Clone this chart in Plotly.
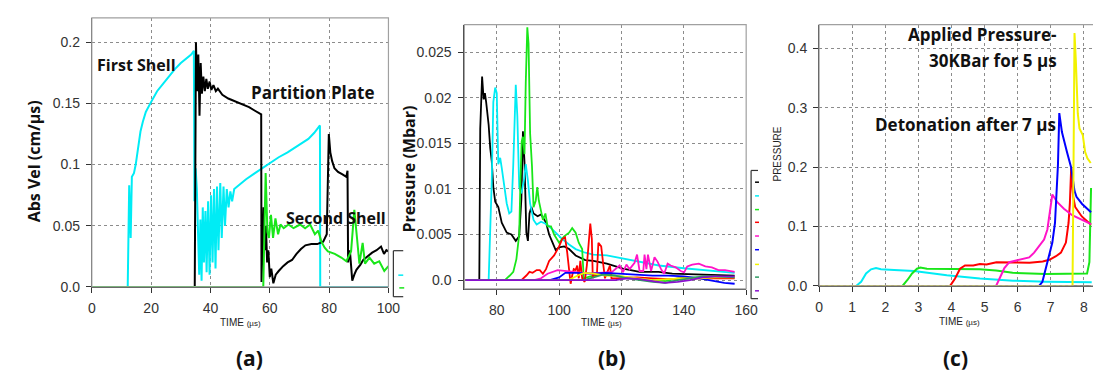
import plotly.graph_objects as go

W, H = 1101, 374

# ---------------- Panel (a): Abs Vel ----------------
a_first_t = [0, 12.1, 12.6, 13.1, 13.5, 14.2, 14.8, 15.3, 15.8, 16.4, 17.2, 18.2, 19.5, 20.5, 22, 24, 26, 28, 30, 32, 33.5, 34.4,
             34.6, 35.0, 35.4, 35.8, 36.2, 36.6, 37.0, 37.4, 37.8, 38.3, 38.7, 39.2, 39.7, 40.2, 40.7, 41.2, 41.7, 42.2, 42.7,
             43.3, 43.8, 44.4, 44.9, 45.5, 46.1, 46.7, 47.3, 48, 49, 50, 52, 55, 58, 60, 63, 66, 70, 73, 75, 76.9, 77.0, 100]
a_first_v = [0, 0, 0.083, 0.04, 0.09, 0.093, 0.1, 0.11, 0.12, 0.127, 0.135, 0.143, 0.149, 0.153, 0.16, 0.166, 0.172, 0.178, 0.183, 0.187, 0.19, 0.193,
             0.07, 0.097, 0.08, 0.045, 0.01, 0.055, 0.005, 0.065, 0.02, 0.062, 0.012, 0.07, 0.01, 0.075, 0.02, 0.08, 0.015, 0.082, 0.03,
             0.085, 0.04, 0.082, 0.05, 0.08, 0.065, 0.078, 0.07, 0.08, 0.082, 0.084, 0.088, 0.093, 0.098, 0.101, 0.106, 0.11, 0.116, 0.121, 0.126, 0.132, 0, 0]

a_plate_t = [0, 34.7, 35.1, 35.5, 35.9, 36.3, 36.7, 37.1, 37.6, 38.1, 38.6, 39.1, 39.7, 40.3, 41, 41.8, 42.5, 44, 46, 48, 50, 53, 55, 57.1,
             57.2, 57.6, 57.9, 58.3, 58.7, 59.1, 59.5, 60.0, 60.5, 61.2, 62, 63, 64.5, 66, 67.5, 69, 70.5, 72, 74, 76, 78, 79.2,
             79.9, 80.4, 81, 81.8, 83, 84.5, 85.8, 86.2, 86.4, 87, 87.8, 88.5, 89.2, 90.5, 91.5, 93, 94.5, 96, 97.5, 98.5, 99.3, 100]
a_plate_v = [0, 0, 0.2, 0.16, 0.19, 0.14, 0.183, 0.158, 0.172, 0.16, 0.17, 0.162, 0.168, 0.161, 0.165, 0.16, 0.162, 0.157, 0.154, 0.152, 0.15, 0.147, 0.144, 0.141,
             0.004, 0.04, 0.065, 0.03, 0.05, 0.02, 0.03, 0.008, 0.015, 0.003, 0.01, 0.013, 0.017, 0.02, 0.022, 0.027, 0.031, 0.034, 0.035, 0.035, 0.037, 0.043,
             0.125, 0.11, 0.103, 0.097, 0.094, 0.092, 0.09, 0.095, 0.02, 0.03, 0.005, 0.01, 0.014, 0.018, 0.022, 0.025, 0.028, 0.03, 0.033, 0.027, 0.03, 0.029]

a_second_t = [0, 57.8, 58.6, 59.2, 59.7, 60.4, 61.1, 61.9, 62.8, 63.6, 64.7, 66.3, 68, 70.2, 71.9, 73.6, 75.2, 76.3, 77.4, 78.5, 79.6,
              81.9, 84.1, 85.8, 87.4, 88.5, 89.4, 90.2, 91.3, 92.1, 93.6, 95.2, 96.9, 98.6, 100]
a_second_v = [0, 0, 0.093, 0.045, 0.04, 0.059, 0.04, 0.056, 0.043, 0.051, 0.048, 0.051, 0.048, 0.051, 0.048, 0.051, 0.043, 0.046, 0.037, 0.032, 0.029,
              0.027, 0.024, 0.021, 0.029, 0.063, 0.04, 0.019, 0.036, 0.019, 0.024, 0.019, 0.021, 0.013, 0.017]

# ---------------- Panel (b): Pressure (Mbar) ----------------
b_black_t = [70, 74.4, 74.7, 75.3, 75.8, 76.2, 76.6, 77.4, 77.9, 78.4, 78.9, 79.5, 80.5, 81.6, 83.2, 84.7, 86.1, 87.2, 87.9, 88.4, 88.9,
             89.5, 90.0, 90.5, 91.1, 91.8, 93.1, 94.2, 95.8, 96.8, 97.9, 98.9, 100, 101.6, 103.2, 105.3, 108.4, 111, 115.3, 120.5,
             125.8, 131.9, 136.3, 146.8, 156.3]
b_black_v = [0, 0, 0.0166, 0.0223, 0.0198, 0.0205, 0.0195, 0.017, 0.0145, 0.013, 0.0102, 0.0086, 0.008, 0.0063, 0.0052, 0.005, 0.0043, 0.0048, 0.0089, 0.0163, 0.0129,
             0.0052, 0.0043, 0.0073, 0.008, 0.0073, 0.007, 0.0072, 0.0063, 0.005, 0.0041, 0.0033, 0.0036, 0.0037, 0.0034, 0.0027, 0.0022, 0.0021, 0.0018, 0.00125,
             0.0009, 0.0009, 0.0007, 0.0006, 0.0005]

b_cyan_t = [70, 77.4, 78.4, 78.9, 79.5, 80.0, 80.5, 81.1, 81.6, 82.1, 83.2, 84.0, 84.7, 85.3, 85.8, 86.1, 86.6, 87.2, 87.9, 88.7, 89.3,
            90.0, 90.7, 91.8, 92.8, 94.2, 95.5, 96.8, 98.9, 101, 103.2, 105.3, 108.4, 111, 115.3, 120, 126, 132, 140, 147, 156.3]
b_cyan_v = [0, 0, 0.0109, 0.0195, 0.0211, 0.0205, 0.0127, 0.0134, 0.0123, 0.0109, 0.0084, 0.0073, 0.0075, 0.0127, 0.0198, 0.0214, 0.018, 0.0102, 0.0095, 0.0109, 0.0127,
            0.0109, 0.0084, 0.0066, 0.0061, 0.0064, 0.0062, 0.0059, 0.0052, 0.0045, 0.0039, 0.0034, 0.003, 0.0028, 0.0027, 0.0024, 0.002, 0.0016, 0.0013, 0.0011, 0.0008]

b_green_t = [70, 82.6, 84.2, 85.3, 86.3, 87.2, 87.6, 88.0, 88.4, 88.9, 89.3, 89.8, 90.2, 90.7, 91.3, 91.8, 92.5, 93.0, 93.5, 94.1, 94.8,
             95.6, 96.3, 97.4, 98.4, 100, 101.6, 103.2, 104.2, 105.3, 106.3, 107.4, 107.9, 110, 114, 118, 122, 126, 130, 134, 138, 144, 150, 156.3]
b_green_v = [0, 0, 0.0005, 0.0009, 0.0023, 0.005, 0.0109, 0.0152, 0.0157, 0.0138, 0.0216, 0.0277, 0.0259, 0.0161, 0.0125, 0.008, 0.0087, 0.0102, 0.0087, 0.0077, 0.0066,
             0.0073, 0.0059, 0.0059, 0.005, 0.0041, 0.0048, 0.0052, 0.0057, 0.0052, 0.0041, 0.0034, 0.0002, 0.0004, 0.0007, 0.0005, 0.0003, 0.0002, 0.0001, -0.0001, 0.0002, 0.0003, 0.0003, 0.0003]

b_red_t = [70, 87.9, 89.5, 90.5, 91.5, 92.8, 93.8, 94.8, 95.8, 96.8, 98.4, 100, 101, 101.9, 102.6, 103.2, 103.7, 104.2, 104.7, 105.3, 105.8,
           106.3, 106.8, 107.4, 108.2, 108.9, 109.5, 110.0, 110.5, 110.8, 111.4, 112.1, 112.6, 113.5, 114.2, 114.7, 116.3, 116.8, 118, 125,
           130, 135, 140, 148, 156.3]
b_red_v = [0, 0, 0.0005, 0.0009, 0.0008, 0.0011, 0.0011, 0.0007, 0.0012, 0.0021, 0.0027, 0.0037, 0.0045, 0.0047, 0.003, 0.0009, -0.0004, 0.0005, 0.0012, 0.0011, 0.0016,
           0.0002, 0.0021, 0.0002, -0.0002, 0.0016, 0.0037, 0.0062, 0.0045, 0.0002, 0.0008, 0.0004, 0.0041, 0.0037, 0.0016, 0.0002, 0.0016, 0.0002, 0.0002, 0.0003,
           0.0002, 0.0001, 0.0002, 0.0002, 0.0002]

b_magenta_t = [70, 92, 94.2, 96.3, 99.5, 104.7, 110, 113, 115.2, 117, 119.4, 120.5, 121.6, 122.6, 124.2, 125, 125.8, 127, 127.4, 128, 128.5,
               129.5, 130.6, 131.6, 132.7, 133.7, 134.8, 135.8, 137.4, 139, 140.1, 141.1, 142.7, 144.8, 146.9, 149, 151.1, 153.2, 156.3]
b_magenta_v = [0, 0, 0.0002, 0.0007, 0.0011, 0.0009, 0.0007, 0.0008, 0.00086, 0.0009, 0.0016, 0.00086, 0.0017, 0.0012, 0.0019, 0.0028, 0.001, 0.001, 0.0028, 0.0012, 0.0028,
               0.001, 0.0025, 0.002, 0.0012, 0.0007, 0.0018, 0.0016, 0.0014, 0.001, 0.00085, 0.0015, 0.0017, 0.0018, 0.0015, 0.0014, 0.0011, 0.0011, 0.0009]

b_blue_t = [70, 97, 100, 102, 106, 110, 115, 120, 125, 130, 135, 140, 145, 150, 153, 156.3]
b_blue_v = [0, 0, 0.0003, 0.0008, 0.0008, 0.0007, 0.0008, 0.0007, 0.0006, 0.0005, 0.0005, 0.0004, 0.0002, -0.0001, -0.0003, -0.0004]

b_yellow_t = [70, 103, 106, 108, 111, 115, 120, 125, 130, 135, 140, 145, 150, 156.3]
b_yellow_v = [0, 0, 0.0005, 0.0008, 0.0007, 0.0005, 0.0004, 0.0002, 0.0, 0.0001, 0.0002, 0.0002, 0.0003, 0.0003]

b_teal_t = [70, 108, 111, 114, 118, 122, 126, 130, 134, 138, 142, 146, 150, 156.3]
b_teal_v = [0, 0, 0.0003, 0.0006, 0.0005, 0.0002, 0.0, -0.0002, -0.0003, 0.0, 0.0002, 0.0004, 0.0004, 0.0003]

b_purple_t = [70, 118, 122, 126, 130, 134, 138, 142, 146, 150, 156.3]
b_purple_v = [0, 0, 0.0002, 0.0001, -0.0001, -0.0003, -0.0002, 0.0, 0.0003, 0.0004, 0.0004]

# ---------------- Panel (c): PRESSURE ----------------
c_base_t = [0, 8.22]
c_base_v = [0, 0]

c_cyan_t = [0, 1.12, 1.27, 1.42, 1.57, 1.72, 1.87, 2.07, 2.27, 2.87, 3.86, 4.86, 5.86, 6.86, 8.24]
c_cyan_v = [0, 0, 0.007, 0.021, 0.028, 0.030, 0.028, 0.028, 0.027, 0.025, 0.018, 0.0126, 0.0088, 0.0071, 0.006]

c_green_t = [0, 2.52, 2.67, 2.81, 2.96, 3.06, 3.26, 3.86, 4.35, 4.85, 5.35, 5.85, 6.85, 8.1, 8.17, 8.2, 8.22]
c_green_v = [0, 0, 0.01, 0.021, 0.029, 0.031, 0.029, 0.029, 0.029, 0.028, 0.026, 0.022, 0.020, 0.021, 0.04, 0.117, 0.165]

c_red_t = [0, 3.96, 4.11, 4.26, 4.41, 4.66, 4.86, 5.06, 5.36, 5.86, 6.36, 6.76, 6.96, 7.16, 7.31, 7.46, 7.54, 7.58, 7.62, 7.68, 7.74, 7.94, 8.22]
c_red_v = [0, 0, 0.0126, 0.029, 0.0345, 0.0345, 0.037, 0.036, 0.04, 0.04, 0.039, 0.041, 0.044, 0.05, 0.056, 0.073, 0.106, 0.139, 0.199, 0.15, 0.133, 0.117, 0.103]

c_magenta_t = [0, 5.35, 5.5, 5.6, 5.75, 5.95, 6.15, 6.35, 6.5, 6.65, 6.8, 6.9, 6.97, 7.05, 7.2, 7.4, 7.65, 7.94, 8.22]
c_magenta_v = [0, 0, 0.018, 0.03, 0.04, 0.043, 0.045, 0.048, 0.056, 0.067, 0.078, 0.095, 0.122, 0.154, 0.141, 0.13, 0.119, 0.111, 0.104]

c_blue_t = [0, 6.65, 6.75, 6.85, 6.95, 7.05, 7.13, 7.18, 7.22, 7.26, 7.34, 7.49, 7.62, 7.72, 7.78, 7.95, 8.1, 8.22]
c_blue_v = [0, 0, 0.007, 0.029, 0.051, 0.073, 0.106, 0.15, 0.204, 0.291, 0.259, 0.226, 0.199, 0.16, 0.15, 0.138, 0.13, 0.124]

c_yellow_t = [0, 7.66, 7.69, 7.72, 7.76, 7.79, 7.82, 7.87, 7.9, 7.97, 8.04, 8.11, 8.21]
c_yellow_v = [0, 0, 0.2, 0.426, 0.38, 0.33, 0.29, 0.265, 0.262, 0.254, 0.226, 0.215, 0.207]

# colours
BLACK, CYAN, GREEN, RED = "#000000", "#00ecf5", "#19e619", "#ff0000"
MAGENTA, BLUE, YELLOW, TEAL, PURPLE = "#ff14c8", "#0000ff", "#f2f200", "#2e9a62", "#8a10d0"

fig = go.Figure()

def line(x, y, color, xa, ya, width=2.0, dash=None):
    fig.add_trace(go.Scatter(x=x, y=y, mode="lines", xaxis=xa, yaxis=ya, showlegend=False,
                             line=dict(color=color, width=width, dash=dash), hoverinfo="skip"))

# panel a
line(a_first_t, a_first_v, CYAN, "x", "y")
line(a_plate_t, a_plate_v, BLACK, "x", "y")
line(a_second_t, a_second_v, GREEN, "x", "y")
# panel b
for t, v, c in [(b_black_t, b_black_v, BLACK), (b_cyan_t, b_cyan_v, CYAN), (b_green_t, b_green_v, GREEN),
                (b_red_t, b_red_v, RED), (b_magenta_t, b_magenta_v, MAGENTA), (b_blue_t, b_blue_v, BLUE),
                (b_yellow_t, b_yellow_v, YELLOW), (b_teal_t, b_teal_v, TEAL), (b_purple_t, b_purple_v, PURPLE)]:
    line(t, v, c, "x2", "y2", width=1.8)
# panel c
line(c_base_t, c_base_v, BLACK, "x3", "y3", width=1.5)
for t, v, c in [(c_cyan_t, c_cyan_v, CYAN), (c_green_t, c_green_v, GREEN), (c_red_t, c_red_v, RED),
                (c_magenta_t, c_magenta_v, MAGENTA), (c_blue_t, c_blue_v, BLUE), (c_yellow_t, c_yellow_v, YELLOW)]:
    line(t, v, c, "x3", "y3", width=2.0)
line(c_base_t, c_base_v, "#c88a10", "x3", "y3", width=1.5, dash="dot")

def px(p): return p / W
def py(p): return 1 - p / H

TF = "Arial"
TICKF = dict(family=TF, size=14, color="#333")
GRID = dict(showgrid=True, gridcolor="#8c8c8c", griddash="dot", gridwidth=1)
AX = dict(showline=True, linecolor="#333", linewidth=1, ticks="outside", ticklen=5, tickcolor="#333",
          tickfont=TICKF, zeroline=False, **GRID)

a_xt = [0, 20, 40, 60, 80, 100]
a_yt = [0, 0.05, 0.1, 0.15, 0.2]
a_ytl = ["0.0", "0.05", "0.1", "0.15", "0.2"]
b_xt = [80, 100, 120, 140, 160]
b_yt = [0, 0.005, 0.01, 0.015, 0.02, 0.025]
b_ytl = ["0.0", "0.005", "0.01", "0.015", "0.02", "0.025"]
c_xt = [0, 1, 2, 3, 4, 5, 6, 7, 8]
c_yt = [0, 0.1, 0.2, 0.3, 0.4]
c_ytl = ["0.0", "0.1", "0.2", "0.3", "0.4"]

fig.update_layout(
    width=W, height=H, margin=dict(l=0, r=0, t=0, b=0),
    paper_bgcolor="white", plot_bgcolor="white", showlegend=False,
    xaxis=dict(domain=[px(81), px(382)], range=[0, 100], tickvals=a_xt, anchor="y", ticklabelstandoff=3, **AX),
    yaxis=dict(domain=[py(285), py(10)], range=[0, 0.22], tickvals=a_yt, ticktext=a_ytl, anchor="x", ticklabelstandoff=3, **AX),
    xaxis2=dict(domain=[px(459), px(745)], range=[69.6, 160], tickvals=b_xt, anchor="y2", ticklabelstandoff=3, **AX),
    yaxis2=dict(domain=[py(287), py(17)], range=[-0.00096, 0.028], tickvals=b_yt, ticktext=b_ytl, anchor="x2", ticklabelstandoff=4, **AX),
    xaxis3=dict(domain=[px(819), 1.0], range=[0, 8.4], tickvals=c_xt, anchor="y3", ticklabelstandoff=3, **AX),
    yaxis3=dict(domain=[py(284), py(17)], range=[0, 0.44], tickvals=c_yt, ticktext=c_ytl, anchor="x3", ticklabelstandoff=3, **AX),
)

# frames
shapes = []
for xa, ya in [("x", "y"), ("x2", "y2"), ("x3", "y3")]:
    shapes.append(dict(type="rect", xref=xa + " domain", yref=ya + " domain", x0=0, x1=1, y0=0, y1=1,
                       line=dict(color="#a0a0a0", width=1.2), layer="above"))
# small legend boxes (cut off in the original)
LG = dict(color="#333", width=1.2)
shapes += [
    dict(type="line", xref="paper", yref="paper", x0=px(387), x1=px(387), y0=py(248), y1=py(295), line=LG),
    dict(type="line", xref="paper", yref="paper", x0=px(387), x1=px(397), y0=py(248), y1=py(248), line=LG),
    dict(type="line", xref="paper", yref="paper", x0=px(387), x1=px(397), y0=py(295), y1=py(295), line=LG),
    dict(type="line", xref="paper", yref="paper", x0=px(392), x1=px(397), y0=py(273), y1=py(273), line=dict(color=CYAN, width=1.5)),
    dict(type="line", xref="paper", yref="paper", x0=px(393), x1=px(398), y0=py(286), y1=py(286), line=dict(color=GREEN, width=1.5)),
    dict(type="line", xref="paper", yref="paper", x0=px(750), x1=px(750), y0=py(166), y1=py(297), line=LG),
    dict(type="line", xref="paper", yref="paper", x0=px(750), x1=px(757), y0=py(166), y1=py(166), line=LG),
    dict(type="line", xref="paper", yref="paper", x0=px(750), x1=px(757), y0=py(297), y1=py(297), line=LG),
]
for yy, col in zip([178, 192, 206, 219, 233, 247, 262, 275, 289],
                   [BLACK, CYAN, GREEN, RED, MAGENTA, BLUE, YELLOW, TEAL, PURPLE]):
    shapes.append(dict(type="line", xref="paper", yref="paper", x0=px(754), x1=px(758), y0=py(yy), y1=py(yy),
                       line=dict(color=col, width=1.5)))
fig.update_layout(shapes=shapes)

BOLD = "Open Sans"
ann = []
def note(text, x, y, xref="paper", yref="paper", size=17, xanchor="center", yanchor="middle", angle=0, family=BOLD, color="#111"):
    ann.append(dict(text=text, x=x, y=y, xref=xref, yref=yref, showarrow=False, xanchor=xanchor, yanchor=yanchor,
                    textangle=angle, font=dict(family=family, size=size, color=color)))

note("<b>First Shell</b>", 1, 0.181, "x", "y", xanchor="left", size=16)
note("<b>Partition Plate</b>", 53, 0.159, "x", "y", xanchor="left")
note("<b>Second Shell</b>", 64.7, 0.056, "x", "y", xanchor="left", size=16)
note("<b>Applied Pressure-</b>", 7.24, 0.4235, "x3", "y3", xanchor="right")
note("<b>30KBar for 5 µs</b>", 7.24, 0.38, "x3", "y3", xanchor="right")
note("<b>Detonation after 7 µs</b>", 7.22, 0.271, "x3", "y3", xanchor="right")

note("<b>Abs Vel (cm/µs)</b>", px(22), py(157), size=16, angle=-90)
note("<b>Pressure (Mbar)</b>", px(403), py(165), size=16, angle=-90)
note("PRESSURE", px(777), py(149), size=10, angle=-90, family=TF, color="#222")

for xc, yc in [(232, 321), (598, 321), (961, 320)]:
    note("TIME <span style='font-size:8px'>(µs)</span>", px(xc), py(yc), size=10, family=TF, color="#222")
for lab, xc in [("(a)", 241), ("(b)", 609), ("(c)", 957)]:
    note("<b>%s</b>" % lab, px(xc), py(358), size=21)

fig.update_layout(annotations=ann)
fig.write_html("out.html")
